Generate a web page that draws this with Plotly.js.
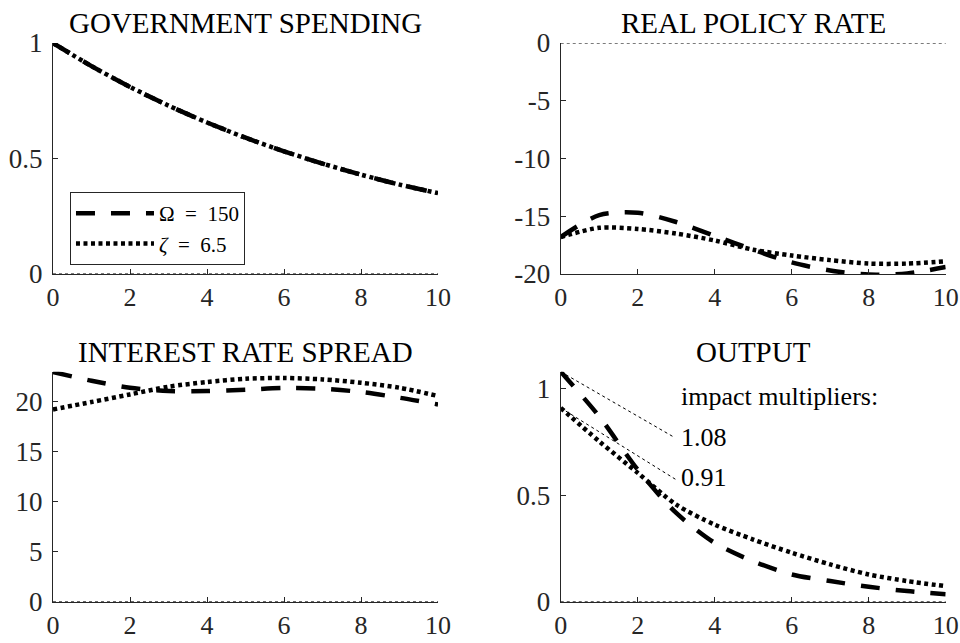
<!DOCTYPE html>
<html>
<head>
<meta charset="utf-8">
<script src="https://cdn.plot.ly/plotly-3.0.1.min.js"></script>
<style>html,body{margin:0;padding:0;background:#fff}#chart{width:960px;height:643px}</style>
</head>
<body>
<div id="chart"></div>
<script>
// ---- data ----
const periods = [0, 1, 2, 3, 4, 5, 6, 7, 8, 9, 10];
const seriesNames = ['Ω\u2002=\u2002150', '<i>ζ</i>\u2002=\u20026.5'];
const panelTitles = ['GOVERNMENT SPENDING', 'REAL POLICY RATE', 'INTEREST RATE SPREAD', 'OUTPUT'];

const govOmega = [1.0, 0.90, 0.81, 0.729, 0.656, 0.590, 0.531, 0.478, 0.430, 0.387, 0.350];
const govZeta  = [1.0, 0.90, 0.81, 0.729, 0.656, 0.590, 0.531, 0.478, 0.430, 0.387, 0.350];

const rateOmega = [-16.8, -14.9, -14.7, -15.5, -16.7, -17.9, -19.0, -19.7, -20.05, -19.95, -19.4];
const rateZeta  = [-16.8, -16.0, -16.1, -16.5, -17.1, -17.9, -18.4, -18.8, -19.1, -19.1, -18.9];

const spreadOmega = [22.97, 22.1, 21.4, 21.07, 21.07, 21.2, 21.37, 21.3, 20.97, 20.4, 19.73];
const spreadZeta  = [19.23, 19.97, 20.73, 21.5, 21.97, 22.3, 22.37, 22.23, 21.9, 21.4, 20.57];

const outputOmega = [1.08, 0.87, 0.62, 0.417, 0.276, 0.19, 0.128, 0.097, 0.07, 0.05, 0.035];
const outputZeta  = [0.91, 0.753, 0.605, 0.456, 0.362, 0.292, 0.23, 0.175, 0.128, 0.097, 0.073];

const multipliers = [1.08, 0.91];
const multiplierLabel = 'impact multipliers:';

const xTickVals = [0, 2, 4, 6, 8, 10];
const govTickVals = [0, 0.5, 1];
const rateTickVals = [-20, -15, -10, -5, 0];
const rateTickText = ['-20', '-15', '-10', '-5', '0'];
const spreadTickVals = [0, 5, 10, 15, 20];
const outputTickVals = [0, 0.5, 1];

// ---- styles ----
const FONT = 'Liberation Serif, Times New Roman, serif';
const AX = '#262626';
const dashStyle = {color: '#000', width: 4.5, dash: '19px,16px', shape: 'spline', smoothing: 0.8};
const dotStyle  = {color: '#000', width: 4.5, dash: '4px,3.5px', shape: 'spline', smoothing: 0.8};

const panels = [
  {ax: '', omega: govOmega, zeta: govZeta},
  {ax: '2', omega: rateOmega, zeta: rateZeta},
  {ax: '3', omega: spreadOmega, zeta: spreadZeta},
  {ax: '4', omega: outputOmega, zeta: outputZeta}
];

const traces = [];
panels.forEach((p, i) => {
  traces.push({x: periods, y: p.omega, type: 'scatter', mode: 'lines', line: dashStyle,
    name: seriesNames[0], showlegend: i === 0, xaxis: 'x' + p.ax, yaxis: 'y' + p.ax, hoverinfo: 'skip'});
  traces.push({x: periods, y: p.zeta, type: 'scatter', mode: 'lines', line: dotStyle,
    name: seriesNames[1], showlegend: i === 0, xaxis: 'x' + p.ax, yaxis: 'y' + p.ax, hoverinfo: 'skip'});
});

const xd = [[0.0552, 0.4563], [0.5841, 0.9851]];
const yd = [[0.5739, 0.9331], [0.0642, 0.4219]];

function xAxis(dom, anchor) {
  return {domain: dom, anchor: anchor, range: [0, 10], tickvals: xTickVals, ticks: 'inside', ticklen: 5,
    tickcolor: AX, showline: true, linecolor: AX, linewidth: 1, showgrid: false, zeroline: false,
    tickfont: {family: FONT, size: 26, color: AX}, automargin: false};
}
function yAxis(dom, anchor, range, vals, text) {
  const a = {domain: dom, anchor: anchor, range: range, tickvals: vals, ticks: 'inside', ticklen: 5,
    tickcolor: AX, showline: true, linecolor: AX, linewidth: 1, showgrid: false, zeroline: false,
    ticklabelstandoff: 4,
    tickfont: {family: FONT, size: 27, color: AX}, automargin: false};
  if (text) a.ticktext = text;
  return a;
}

const shapes = [];
['', '2', '3', '4'].forEach(a => {
  shapes.push({type: 'line', xref: 'x' + a + ' domain', yref: 'y' + a, x0: 0, x1: 1, y0: 0, y1: 0,
    line: {color: '#000', width: 1, dash: 'dot'}});
});
// impact multiplier leader lines
const leaderEnds = [[2.92, 0.775], [2.98, 0.575]];
multipliers.forEach((m, i) => {
  shapes.push({type: 'line', xref: 'x4', yref: 'y4', x0: periods[0], y0: m, x1: leaderEnds[i][0], y1: leaderEnds[i][1],
    line: {color: '#000', width: 1, dash: 'dot'}});
});

const annotations = [];
['', '2', '3', '4'].forEach((a, i) => {
  annotations.push({text: panelTitles[i], xref: 'x' + a + ' domain', yref: 'y' + a + ' domain', x: 0.5, y: 1,
    xanchor: 'center', yanchor: 'bottom', yshift: 2, showarrow: false, font: {family: FONT, size: 29, color: '#000'}});
});
annotations.push({text: multiplierLabel, xref: 'x4', yref: 'y4', x: 3.07, y: 0.964, xanchor: 'left', yanchor: 'middle',
  showarrow: false, font: {family: FONT, size: 26, color: '#000'}});
const labelY = [0.773, 0.581];
multipliers.forEach((m, i) => {
  annotations.push({text: m.toFixed(2), xref: 'x4', yref: 'y4', x: 3.07, y: labelY[i], xanchor: 'left', yanchor: 'middle',
    showarrow: false, font: {family: FONT, size: 26, color: '#000'}});
});

const layout = {
  width: 960, height: 643,
  margin: {l: 0, r: 0, t: 0, b: 0},
  paper_bgcolor: '#fff', plot_bgcolor: '#fff',
  showlegend: true,
  legend: {x: 0.0729, y: 0.7014, xanchor: 'left', yanchor: 'top', bgcolor: '#fff', bordercolor: AX, borderwidth: 1,
    itemwidth: 78, font: {family: FONT, size: 21, color: '#000'}, tracegroupgap: 0},
  xaxis: xAxis(xd[0], 'y'),
  yaxis: yAxis(yd[0], 'x', [0, 1], govTickVals),
  xaxis2: xAxis(xd[1], 'y2'),
  yaxis2: yAxis(yd[0], 'x2', [-20, 0], rateTickVals, rateTickText),
  xaxis3: xAxis(xd[0], 'y3'),
  yaxis3: yAxis(yd[1], 'x3', [0, 23], spreadTickVals),
  xaxis4: xAxis(xd[1], 'y4'),
  yaxis4: yAxis(yd[1], 'x4', [0, 1.08], outputTickVals),
  shapes: shapes,
  annotations: annotations
};

Plotly.newPlot('chart', traces, layout, {displayModeBar: false, staticPlot: true});
</script>
</body>
</html>
